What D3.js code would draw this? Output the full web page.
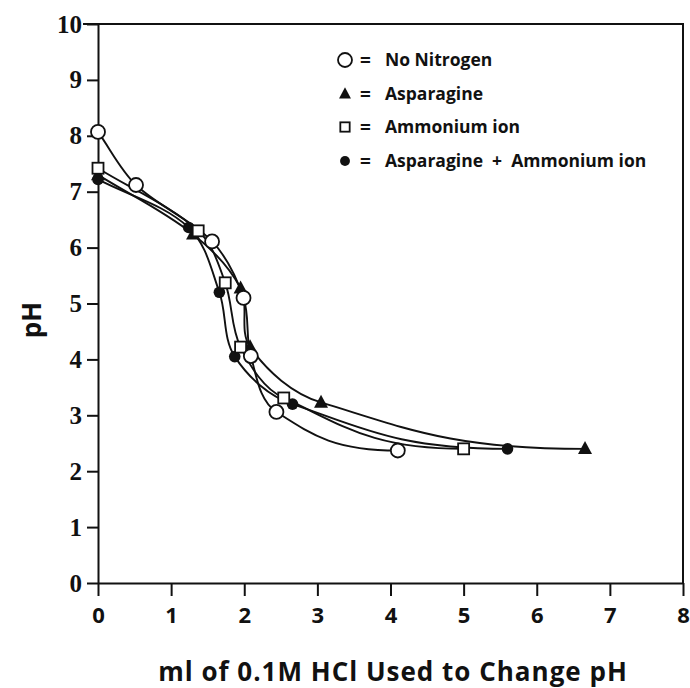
<!DOCTYPE html>
<html>
<head>
<meta charset="utf-8">
<script src="https://cdn.jsdelivr.net/npm/d3@7"></script>
<style>
  body { margin: 0; background: #fff; }
  svg { display: block; }
</style>
</head>
<body>
<div id="chart"></div>
<script>
// values: [ml HCl, pH]
var noNitrogen = [[0, 8.07], [0.52, 7.12], [1.56, 6.11], [1.99, 5.1], [2.09, 4.06], [2.44, 3.06], [4.1, 2.37]];
var asparagine = [[0, 7.3], [1.3, 6.24], [1.95, 5.27], [2.08, 4.22], [3.05, 3.23], [6.66, 2.4]];
var ammonium = [[0, 7.42], [1.37, 6.3], [1.74, 5.37], [1.95, 4.22], [2.54, 3.31], [5.0, 2.4]];
var aspAmm = [[0, 7.22], [1.24, 6.36], [1.66, 5.2], [1.87, 4.05], [2.66, 3.2], [5.6, 2.4]];

var seriesNames = ["No Nitrogen", "Asparagine", "Ammonium ion", "Asparagine  +  Ammonium ion"];
var seriesMarkers = ["openCircle", "triangle", "openSquare", "dot"];
var xTicks = [0, 1, 2, 3, 4, 5, 6, 7, 8];
var yTicks = [0, 1, 2, 3, 4, 5, 6, 7, 8, 9, 10];

var width = 690, height = 688;
var svg = d3.select("#chart").append("svg")
    .attr("width", width)
    .attr("height", height);

var x = d3.scaleLinear().domain([0, 8]).range([98, 683]);
var y = d3.scaleLinear().domain([0, 10]).range([583, 24]);

var sans = "'Open Sans', Lato, sans-serif";

// frame (top and right edges), top edge runs a bit past the y axis like the original
svg.append("path")
    .attr("d", `M${x(0) - 15},${y(10)} H${x(8)} V${y(0)}`)
    .style("fill", "none")
    .style("stroke", "#111")
    .style("stroke-width", "2px");

// x axis
var xAxis = svg.append("g")
    .attr("transform", `translate(0,${y(0)})`)
    .call(d3.axisBottom(x).tickValues(xTicks).tickSize(13).tickPadding(11).tickSizeOuter(0));
xAxis.select(".domain").style("stroke", "#111").style("stroke-width", "2px");
xAxis.selectAll(".tick line").style("stroke", "#111").style("stroke-width", "2px");
xAxis.selectAll("text")
    .style("font-family", sans)
    .style("font-weight", "bold")
    .style("font-size", "22px")
    .style("fill", "#111");

// y axis
var yAxis = svg.append("g")
    .attr("transform", `translate(${x(0)},0)`)
    .call(d3.axisLeft(y).tickValues(yTicks).tickSize(11).tickPadding(5).tickSizeOuter(0));
yAxis.select(".domain").style("stroke", "#111").style("stroke-width", "2px");
yAxis.selectAll(".tick line").style("stroke", "#111").style("stroke-width", "2px");
yAxis.selectAll("text")
    .style("font-family", "'Liberation Serif', serif")
    .style("font-weight", "bold")
    .style("font-size", "25px")
    .style("fill", "#111");

// axis titles
svg.append("text")
    .attr("x", 393)
    .attr("y", 681)
    .attr("text-anchor", "middle")
    .text("ml of 0.1M HCl Used to Change pH")
    .style("font-family", sans)
    .style("font-weight", "bold")
    .style("font-size", "26px")
    .style("letter-spacing", "1px")
    .style("fill", "#111");

svg.append("text")
    .attr("transform", "translate(41,320) rotate(-90)")
    .attr("text-anchor", "middle")
    .text("pH")
    .style("font-family", sans)
    .style("font-weight", "bold")
    .style("font-size", "26px")
    .style("fill", "#111");

// smooth curve through the points that levels off at the last point (hand-drawn look)
function curveLevelEnd(context) {
    var pts;
    return {
        areaStart: function() {},
        areaEnd: function() {},
        lineStart: function() { pts = []; },
        point: function(px, py) { pts.push([+px, +py]); },
        lineEnd: function() {
            var n = pts.length;
            if (!n) return;
            context.moveTo(pts[0][0], pts[0][1]);
            var dirs = pts.map(function(p, i) {
                if (i === n - 1) return [1, 0];
                var a = i === 0 ? pts[0] : pts[i - 1], b = pts[i + 1];
                var dx = b[0] - a[0], dy = b[1] - a[1], l = Math.hypot(dx, dy) || 1;
                return [dx / l, dy / l];
            });
            for (var i = 0; i < n - 1; i++) {
                var p = pts[i], q = pts[i + 1];
                var len = Math.hypot(q[0] - p[0], q[1] - p[1]) / 3;
                var endLen = i === n - 2 ? len * 1.5 : len; // flatter run into the last point
                context.bezierCurveTo(
                    p[0] + dirs[i][0] * len, p[1] + dirs[i][1] * len,
                    q[0] - dirs[i + 1][0] * endLen, q[1] - dirs[i + 1][1] * endLen,
                    q[0], q[1]);
            }
        }
    };
}

var line = d3.line()
    .x(d => x(d[0]))
    .y(d => y(d[1]))
    .curve(curveLevelEnd);

var allSeries = [noNitrogen, asparagine, ammonium, aspAmm];

svg.append("g").selectAll("path")
    .data(allSeries)
    .join("path")
    .attr("d", line)
    .style("fill", "none")
    .style("stroke", "#111")
    .style("stroke-width", "1.9px");

// marker drawing
function drawMarker(g, kind, cx, cy, s) {
    if (kind === "openCircle") {
        g.append("circle").attr("cx", cx).attr("cy", cy).attr("r", 7 * s)
            .style("fill", "#fff").style("stroke", "#111").style("stroke-width", "1.8px");
    } else if (kind === "triangle") {
        var h = 13 * s, w = 14 * s;
        g.append("polygon")
            .attr("points", `${cx},${cy - h * 0.6} ${cx + w / 2},${cy + h * 0.4} ${cx - w / 2},${cy + h * 0.4}`)
            .style("fill", "#111");
    } else if (kind === "openSquare") {
        var a = 11 * s;
        g.append("rect").attr("x", cx - a / 2).attr("y", cy - a / 2).attr("width", a).attr("height", a)
            .style("fill", "#fff").style("stroke", "#111").style("stroke-width", "1.8px");
    } else {
        g.append("circle").attr("cx", cx).attr("cy", cy).attr("r", 5.8 * s)
            .style("fill", "#111");
    }
}

var marks = svg.append("g");
// draw order so open markers sit on top like the reference
[aspAmm, asparagine, ammonium, noNitrogen].forEach(function(data) {
    var i = allSeries.indexOf(data);
    data.forEach(function(d) {
        drawMarker(marks, seriesMarkers[i], x(d[0]), y(d[1]), 1);
    });
});

// legend
var legendY = [60, 94, 127, 161];
var legend = svg.append("g");
seriesNames.forEach(function(name, i) {
    drawMarker(legend, seriesMarkers[i], 345, legendY[i], i === 0 ? 1 : 0.85);
    legend.append("text")
        .attr("x", 360)
        .attr("y", legendY[i])
        .attr("dy", "0.35em")
        .text("=")
        .style("font-family", sans)
        .style("font-weight", "bold")
        .style("font-size", "19px")
        .style("fill", "#111");
    legend.append("text")
        .attr("x", 385)
        .attr("y", legendY[i])
        .attr("dy", "0.35em")
        .text(name)
        .style("font-family", sans)
        .style("font-weight", "bold")
        .style("font-size", "17.5px")
        .style("white-space", "pre")
        .style("fill", "#111");
});
</script>
</body>
</html>
